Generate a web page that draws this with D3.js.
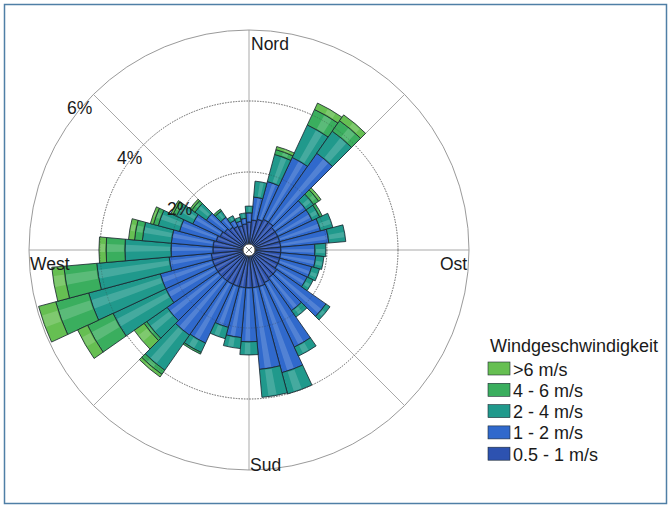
<!DOCTYPE html>
<html><head><meta charset="utf-8">
<script src="https://cdn.jsdelivr.net/npm/d3@7"></script>
<style>
body{margin:0;background:#fff}
svg{display:block}
text{font-family:"Liberation Sans",Arial,Helvetica,sans-serif;fill:#1a1a1a}
</style>
</head><body>
<svg id="chart" width="670" height="506"></svg>
<script>
// ---- data (percent of time per direction sector and speed class) ----
const directions = [0,10,20,30,40,50,60,70,80,90,100,110,120,130,140,150,160,170,180,190,200,210,220,230,240,250,260,270,280,290,300,310,320,330,340,350];
const speedClasses = ["0.5 - 1 m/s","1 - 2 m/s","2 - 4 m/s","4 - 6 m/s",">6 m/s"];
const s05to1 = [0.59,0.65,0.70,0.76,0.76,0.70,0.70,0.70,0.70,0.70,0.70,0.70,0.70,0.76,0.76,0.82,0.87,0.87,0.87,0.87,0.87,0.87,0.87,0.87,0.87,0.87,0.87,0.82,0.82,0.76,0.70,0.65,0.59,0.54,0.51,0.54];
const s1to2  = [0.26,0.65,1.10,1.92,2.37,1.07,1.07,1.19,1.36,0.96,0.99,0.93,0.91,1.69,1.13,2.00,2.51,2.31,1.52,1.41,1.19,1.83,1.86,1.75,1.52,1.52,1.19,1.18,1.18,1.07,0.85,0.62,0.34,0.19,0.14,0.16];
const s2to4  = [0.19,0.45,0.79,1.01,0.76,0.26,0.23,0.36,0.48,0.31,0.23,0.23,0.19,0.14,0.22,0.28,0.62,0.79,0.37,0.31,0.33,0.29,1.21,0.70,1.64,2.09,2.05,1.30,0.82,0.62,0.51,0.39,0.22,0.14,0.11,0.15];
const s4to6  = [0,0,0.14,0.48,0.36,0.17,0.08,0,0,0,0,0,0,0,0,0,0,0,0,0,0,0.05,0.14,0.09,0.79,0.96,0.93,0.53,0.22,0.14,0.11,0.11,0.06,0,0,0];
const s6plus = [0,0,0.09,0.20,0.20,0.08,0,0,0,0,0,0,0,0,0,0,0,0,0,0,0,0,0.09,0.34,0.31,0.50,0.34,0.20,0.17,0.09,0.06,0.06,0,0,0,0];
const ringTicks = [2,4,6];
const tickLabels = ["2%","4%","6%"];
const compassLabels = ["Nord","Ost","Sud","West"];
const legendTitle = "Windgeschwindigkeit";
const classColors = ["#2d52b0","#3069cc","#20998c","#3aae5e","#66bf52"];

// ---- layout ----
const cx = 249, cy = 250;
const svg = d3.select("#chart");
svg.append("rect").attr("x",4.5).attr("y",4.5).attr("width",662).attr("height",499)
  .attr("fill","#fff").attr("stroke","#4f7fa6").attr("stroke-width",1.5);

const r = d3.scaleLinear().domain([0,6]).range([7,220]);
const ang = d3.scaleLinear().domain([0,360]).range([0,2*Math.PI]);
const g = svg.append("g").attr("transform",`translate(${cx},${cy})`);

// spokes
[0,45,90,135].forEach(a=>{
  const t = ang(a), R = r(6);
  g.append("line")
    .attr("x1",-R*Math.sin(t)).attr("y1",R*Math.cos(t))
    .attr("x2",R*Math.sin(t)).attr("y2",-R*Math.cos(t))
    .attr("stroke","#a9a9a9").attr("stroke-width",1);
});
// rings
ringTicks.forEach(v=>{
  g.append("circle").attr("r",r(v)).attr("fill","none")
    .attr("stroke", v===6 ? "#9a9a9a" : "#8a8a8a")
    .attr("stroke-width",1)
    .attr("stroke-dasharray", v===6 ? null : "1.5,1.2");
});

// stacked bars
const keys = ["a","b","c","d","e"];
const table = directions.map((d,i)=>({dir:d,a:s05to1[i],b:s1to2[i],c:s2to4[i],d:s4to6[i],e:s6plus[i]}));
const stacked = d3.stack().keys(keys)(table);
const arc = d3.arc();
const half = 5;
stacked.forEach((layer,li)=>{
  layer.forEach(pt=>{
    const [y0,y1] = pt;
    if (y1 - y0 < 0.001) return;
    const dir = pt.data.dir;
    const inner = li===0 ? 0 : r(y0);
    g.append("path")
      .attr("d", arc({innerRadius:inner, outerRadius:r(y1), startAngle:ang(dir-half), endAngle:ang(dir+half)}))
      .attr("fill", classColors[li])
      .attr("stroke","#16222c").attr("stroke-width",0.8).attr("stroke-linejoin","round");
    // highlight streak
    g.append("path")
      .attr("d", arc({innerRadius:inner+1, outerRadius:r(y1)-1, startAngle:ang(dir-0.8), endAngle:ang(dir+2.4)}))
      .attr("fill","#ffffff").attr("opacity",0.17);
  });
});

// rings visible through bars
ringTicks.filter(v=>v<6).forEach(v=>{
  g.append("circle").attr("r",r(v)).attr("fill","none")
    .attr("stroke","#333").attr("stroke-opacity",0.35).attr("stroke-width",0.8)
    .attr("stroke-dasharray","1.5,1.2");
});

// centre marker
g.append("circle").attr("r",6).attr("fill","#fff").attr("stroke","#555").attr("stroke-width",1);
[[-3,-3,3,3],[-3,3,3,-3]].forEach(l=>g.append("line").attr("x1",l[0]).attr("y1",l[1]).attr("x2",l[2]).attr("y2",l[3]).attr("stroke","#777").attr("stroke-width",1));

// compass labels
const compassPos = [[251,50],[440,270],[250,471],[30,270]];
compassLabels.forEach((t,i)=>{
  svg.append("text").attr("x",compassPos[i][0]).attr("y",compassPos[i][1])
    .attr("font-size",17.5).text(t);
});
// ring tick labels
const tickPos = [[167,215],[117,164],[67,114]];
tickLabels.forEach((t,i)=>{
  svg.append("text").attr("x",tickPos[i][0]).attr("y",tickPos[i][1])
    .attr("font-size",17.5).text(t);
});

// legend
const lg = svg.append("g").attr("transform","translate(488,0)");
lg.append("text").attr("x",2).attr("y",352).attr("font-size",18).text(legendTitle);
const legendOrder = [4,3,2,1,0];
legendOrder.forEach((ci,row)=>{
  const y = 362 + row*21.3;
  lg.append("rect").attr("x",0).attr("y",y).attr("width",22).attr("height",13)
    .attr("fill",classColors[ci]).attr("stroke","#1e2a33").attr("stroke-width",0.6);
  lg.append("text").attr("x",25).attr("y",y+13.5).attr("font-size",18).text(speedClasses[ci]);
});
</script>
</body></html>
